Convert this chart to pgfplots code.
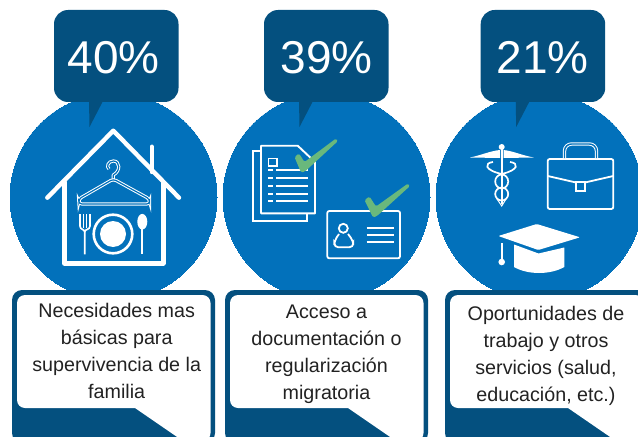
\documentclass[border=0pt]{standalone}
\usepackage{fontspec}
\setmainfont{Liberation Sans}
\usepackage{pgfplots}
\pgfplotsset{compat=1.18}

\definecolor{midblue}{HTML}{0271BB}
\definecolor{darkblue}{HTML}{04507F}
\definecolor{checkgreen}{HTML}{69B87C}
\definecolor{bodytext}{HTML}{222222}

% callout with the tail, #1 left edge
\newcommand{\callout}[1]{
  \fill[darkblue,rounded corners=14bp] (#1,10) rectangle ({#1+124.5},102);
  \fill[darkblue] ({#1+35},100) -- ({#1+35.5},127) -- ({#1+49.5},100) -- cycle;
}
% text box with border and tail, #1 left edge
\newcommand{\textbox}[1]{
  \fill[darkblue,rounded corners=10bp] (#1,290) rectangle ({#1+203},443);
  \fill[white,rounded corners=8bp] ({#1+5},295) -- ({#1+198.5},295) -- ({#1+198.5},441)
     -- ({#1+171},441) [sharp corners] -- ({#1+123},408) [rounded corners=8bp] -- ({#1+5},408) -- cycle;
}
\newcommand{\bodynode}[2]{
  \node[anchor=north,align=center,inner sep=0pt,text=bodytext,
        font=\fontsize{19.7bp}{27bp}\selectfont] at #1 {#2};
}

\begin{document}
\begin{tikzpicture}
\useasboundingbox (0,0) rectangle (638bp,437bp);
\begin{axis}[
    at={(0,0)}, anchor=south west,
    hide axis, scale only axis,
    width=638bp, height=437bp,
    xmin=0, xmax=638, ymin=0, ymax=437,
    y dir=reverse,
    clip marker paths=true,
]
% circles
\addplot[only marks,color=midblue,mark=*,mark size=103.5bp,
    mark options={draw=midblue,fill=midblue,line width=0pt}]
  coordinates {(113.5,197) (326.5,197) (539.5,197)};

\callout{54}
\callout{264}
\callout{480.7}

% percentages
\addplot[only marks,mark=none,point meta=explicit symbolic,
    nodes near coords={\pgfplotspointmeta},
    nodes near coords style={anchor=center,inner sep=0pt,text=white,
        font=\fontsize{46bp}{46bp}\selectfont}]
  coordinates {(113.5,58)[40\%] (326.5,58)[39\%] (542.5,58)[21\%]};

\textbox{12}
\textbox{225}
\textbox{445}

\bodynode{(116.7,303)}{Necesidades mas\\básicas para\\supervivencia de la\\familia}
\bodynode{(326.5,305)}{Acceso a\\documentación o\\regularización\\migratoria}
\bodynode{(546,306)}{Oportunidades de\\trabajo y otros\\servicios (salud,\\educación, etc.)}

% house
\draw[white,line width=4.4bp,line cap=round,line join=round]
   (47.3,197.7) -- (113.3,130.7) -- (179,197.7);
\draw[white,line width=4.4bp,line cap=round,line join=round]
   (64.3,182) -- (64.3,263.3) -- (163.3,263.3) -- (163.3,183);
\draw[white,line width=4.4bp,line cap=round] (151.7,146.7) -- (151.7,172);
% hanger
\draw[white,line width=1bp,double=midblue,double distance=1.2bp,line join=round]
   (113.3,179) -- (113.3,175) .. controls (121,171) and (120,161) .. (113.5,161)
   .. controls (108,161) and (106,167) .. (109,169);
\draw[white,line width=1bp,double=midblue,double distance=1.2bp,rounded corners=3bp]
   (113.3,179) -- (78.7,199) -- (79,204) -- (149.6,204) -- (149.6,199) -- cycle;
% fork
\draw[white,line width=1.6bp] (80,214) -- (80,226) .. controls (80,230) and (84.7,229) .. (84.7,232)
   -- (84.7,254.3);
\draw[white,line width=1.6bp] (90,214) -- (90,226) .. controls (90,230) and (84.7,229) .. (84.7,232);
\draw[white,line width=1.3bp] (83.3,214) -- (83.3,228);
\draw[white,line width=1.3bp] (86.7,214) -- (86.7,228);
% plate
\draw[white,line width=2.6bp] (113,234) circle[radius=19.3bp];
\fill[white] (113,234) circle[radius=13bp];
% spoon
\fill[white] (142.3,221.7) ellipse[x radius=5bp,y radius=7.8bp];
\draw[white,line width=1.9bp] (142.3,225) -- (142.3,254.3);

% document pages
\draw[white,line width=1.9bp] (261,151) -- (253.3,151) -- (253.3,221) -- (306.7,221) -- (306.7,213.3);
\draw[white,line width=1.9bp,line join=round] (261,145.7) -- (297.7,145.7) -- (315,162) -- (315,213.3)
   -- (261,213.3) -- cycle;
\draw[white,line width=1.8bp] (268.5,158.5) rectangle (277,165.7);
\draw[white,line width=1.9bp] (268,170.3) -- (273,170.3) (276,170.3) -- (308,170.3)
   (268,178.3) -- (273,178.3) (276,178.3) -- (308,178.3)
   (268,186) -- (273,186) (276,186) -- (308,186)
   (268,193.7) -- (273,193.7) (276,193.7) -- (308,193.7)
   (268,201.3) -- (273,201.3) (276,201.3) -- (308,201.3);
\fill[checkgreen,rounded corners=1.5bp] (294.5,157) -- (299,153.5) -- (304.5,162) -- (336,138.5)
   -- (338,141) -- (305,171.5) -- (301,172.5) -- cycle;
% id card
\draw[white,line width=1.8bp,rounded corners=2bp] (327.3,211) rectangle (400,258.3);
\draw[white,line width=1.8bp] (343.3,228.3) circle[radius=4.5bp];
\draw[white,line width=1.8bp,rounded corners=4bp] (339,234) -- (334.3,241) -- (334.3,247.3)
   -- (353.3,247.3) -- (353.3,241) -- (348,234);
\draw[white,line width=1.8bp] (366.7,227.7) -- (394,227.7) (366.7,234.7) -- (394,234.7)
   (366.7,242) -- (394,242);
\fill[checkgreen,rounded corners=1.5bp] (364.5,200) -- (369.5,196.5) -- (376,206.5) -- (408,183.5)
   -- (410,186) -- (377,216) -- (373,217.5) -- cycle;

% caduceus
\draw[white,line width=1.6bp] (501.7,146) -- (501.7,204);
\fill[white] (501.7,147) circle[radius=3bp];
\fill[white] (470,157.5) .. controls (482,155) and (490,151) .. (500,150) -- (500,158) -- cycle;
\fill[white] (533.5,157.5) .. controls (521,155) and (513,151) .. (503.5,150) -- (503.5,158) -- cycle;
\draw[white,line width=1.7bp] (501.7,181.5) ellipse[x radius=6.5bp,y radius=7bp];
\draw[white,line width=1.7bp] (501.7,194) ellipse[x radius=6.5bp,y radius=6.5bp];
\draw[white,line width=1.7bp] (493,162) .. controls (484,163) and (484,170) .. (501.7,174)
   .. controls (519,170) and (519,163) .. (510,162);
\draw[white,line width=1bp] (497,199) -- (501.7,206) -- (506,199);
% briefcase
\draw[white,line width=1.8bp,rounded corners=2bp] (547.7,159) rectangle (613.3,209);
\draw[white,line width=1.8bp] (547.7,176) -- (576,182.5) (585,182.5) -- (613.3,176);
\draw[white,line width=1.8bp] (576,182) rectangle (585,191);
\draw[white,line width=1bp,double=midblue,double distance=1.4bp,rounded corners=7bp]
   (564.5,158) -- (564.5,144) -- (596.5,144) -- (596.5,158);
% graduation cap
\fill[white,rounded corners=1bp] (498.3,236) -- (536.7,224) -- (580,237.3) -- (538.3,250) -- cycle;
\fill[white] (514,244.5) -- (538.5,253.5) -- (564.3,247.5) -- (564.3,267)
   .. controls (550,275) and (528,275) .. (514,267) -- cycle;
\draw[white,line width=1.6bp] (501.7,243) -- (501.7,261);
\fill[white] (501.7,262) circle[radius=3.3bp];
\end{axis}
\end{tikzpicture}
\end{document}
